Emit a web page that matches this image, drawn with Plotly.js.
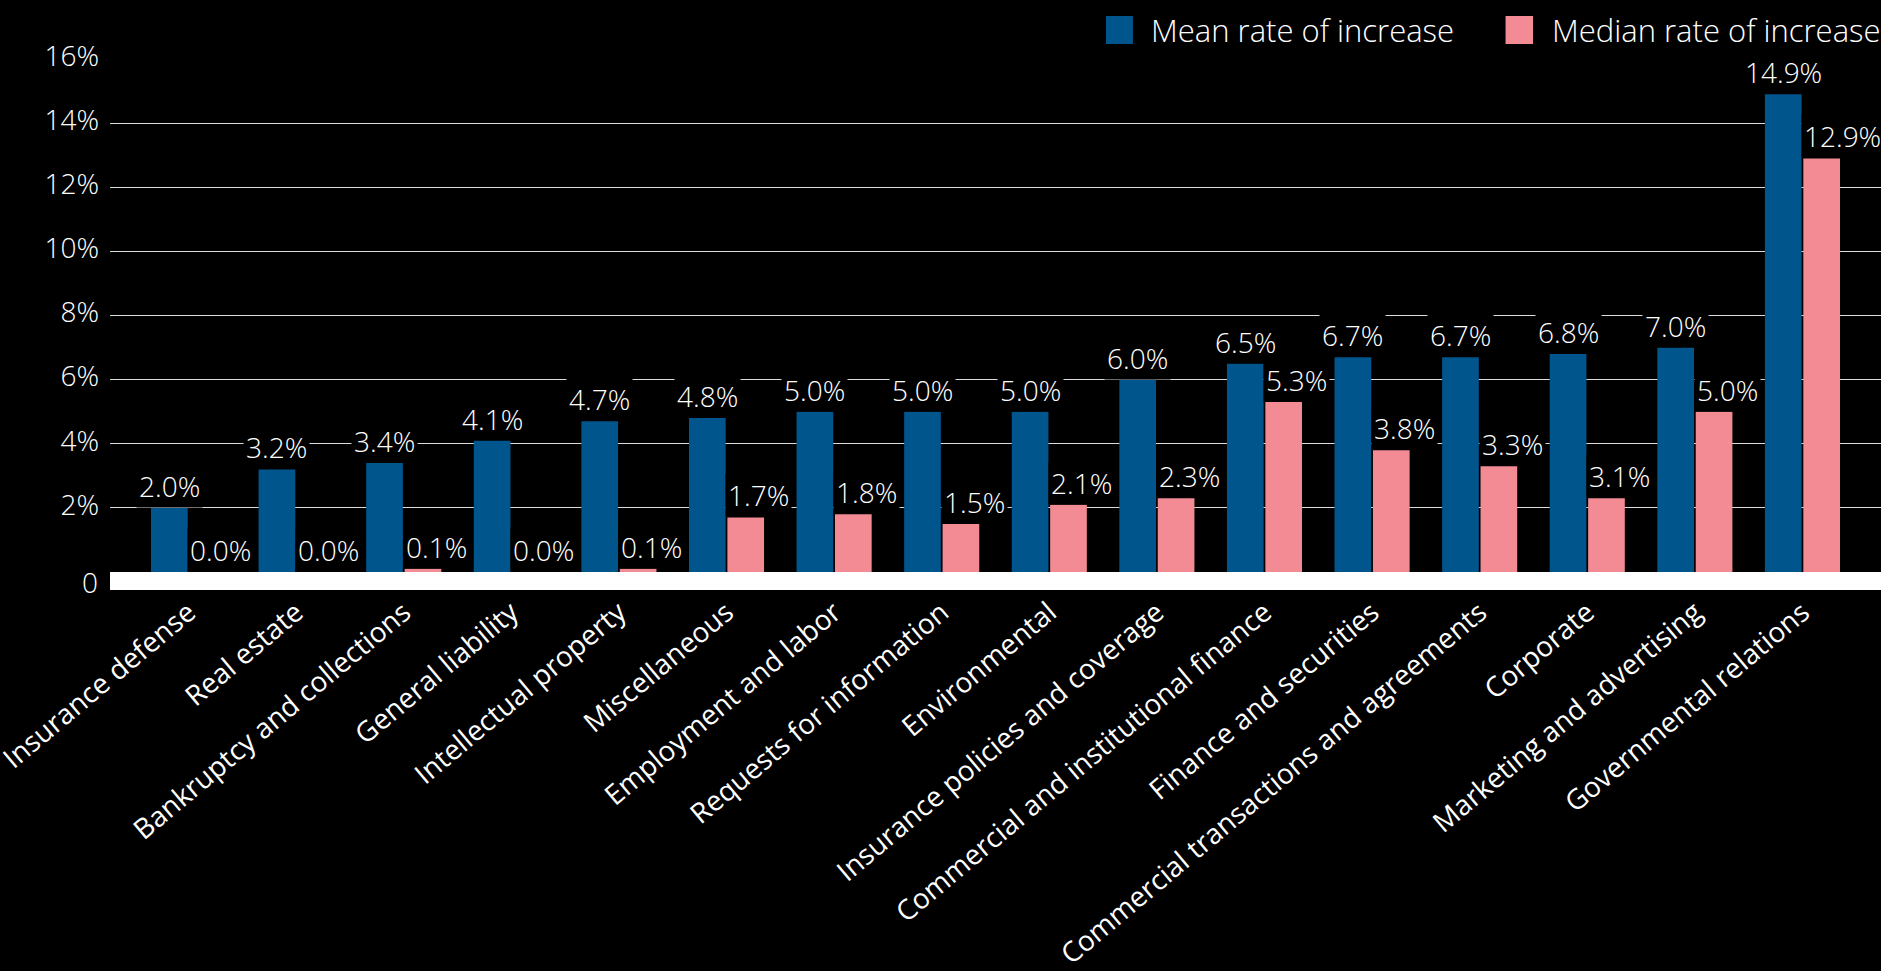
<!DOCTYPE html>
<html>
<head>
<meta charset="utf-8">
<script src="https://cdn.plot.ly/plotly-3.0.1.min.js"></script>
<style>html,body{margin:0;padding:0;background:#000;}#chart{width:1881px;height:971px;}</style>
</head>
<body>
<div id="chart"></div>
<script>
// ---- data ----
const categories = [
  "Insurance defense", "Real estate", "Bankruptcy and collections", "General liability",
  "Intellectual property", "Miscellaneous", "Employment and labor", "Requests for information",
  "Environmental", "Insurance policies and coverage", "Commercial and institutional finance",
  "Finance and securities", "Commercial transactions and agreements", "Corporate",
  "Marketing and advertising", "Governmental relations"
];
const seriesNames = ["Mean rate of increase", "Median rate of increase"];
const meanValues   = [2.0, 3.2, 3.4, 4.1, 4.7, 4.8, 5.0, 5.0, 5.0, 6.0, 6.5, 6.7, 6.7, 6.8, 7.0, 14.9];
const medianValues = [0.0, 0.0, 0.1, 0.0, 0.1, 1.7, 1.8, 1.5, 2.1, 2.3, 5.3, 3.8, 3.3, 2.3, 5.0, 12.9];
// printed labels (the Corporate median bar is drawn at 2.3 but labelled 3.1% in the source)
const meanLabels   = [2.0, 3.2, 3.4, 4.1, 4.7, 4.8, 5.0, 5.0, 5.0, 6.0, 6.5, 6.7, 6.7, 6.8, 7.0, 14.9];
const medianLabels = [0.0, 0.0, 0.1, 0.0, 0.1, 1.7, 1.8, 1.5, 2.1, 2.3, 5.3, 3.8, 3.3, 3.1, 5.0, 12.9];
const yTickValues = [2, 4, 6, 8, 10, 12, 14, 16];

// ---- style ----
const BLUE = "#00558C";
const PINK = "#F28B94";
const FONT = "Open Sans, Noto Sans, sans-serif";
const BARGAP = 0.286, GROUPGAP = 0.045;
const slot = (1 - BARGAP) / 2;

const traces = [
  {type: "bar", name: seriesNames[0], x: categories, y: meanValues,
   marker: {color: BLUE}, hoverinfo: "x+y"},
  {type: "bar", name: seriesNames[1], x: categories, y: medianValues,
   marker: {color: PINK}, hoverinfo: "x+y"}
];

const labelFont = {family: FONT, size: 28, color: "#ffffff", weight: 300};
const annotations = [];
categories.forEach((c, i) => {
  annotations.push({
    x: i - slot / 2, y: meanValues[i], xref: "x", yref: "y",
    text: meanLabels[i].toFixed(1) + "%", showarrow: false,
    xanchor: "center", yanchor: "bottom", bgcolor: "#000000", borderpad: 2,
    font: labelFont
  });
  annotations.push({
    x: i - 0.01, y: medianValues[i], xref: "x", yref: "y",
    text: medianLabels[i].toFixed(1) + "%", showarrow: false,
    xanchor: "left", yanchor: "bottom", bgcolor: "#000000", borderpad: 2,
    font: labelFont
  });
});
// zero label centred on the white baseline band
annotations.push({
  x: 0, xref: "paper", y: 0, yref: "y", yshift: -10, xshift: -10,
  text: "0", showarrow: false, xanchor: "right", yanchor: "middle",
  font: {family: FONT, size: 28, color: "#ffffff", weight: 300}
});

// custom legend (large square swatches)
const legendItems = [
  {name: seriesNames[0], color: BLUE, x0: 0.5624, x1: 0.5776, tx: 0.5870},
  {name: seriesNames[1], color: PINK, x0: 0.7880, x1: 0.8035, tx: 0.8134}
];
const shapes = [];
legendItems.forEach(it => {
  shapes.push({type: "rect", xref: "paper", yref: "paper",
    x0: it.x0, x1: it.x1, y0: 1.0292, y1: 1.0838,
    fillcolor: it.color, line: {width: 0}});
  annotations.push({x: it.tx, y: 1.0565, xref: "paper", yref: "paper",
    text: it.name, showarrow: false, xanchor: "left", yanchor: "middle", borderpad: 0,
    font: {family: FONT, size: 31, color: "#ffffff", weight: 300}});
});

const layout = {
  width: 1881, height: 971,
  paper_bgcolor: "#000000", plot_bgcolor: "#000000",
  margin: {l: 110, r: 0, t: 59, b: 399, pad: 0},
  showlegend: false,
  barmode: "group", bargap: BARGAP, bargroupgap: GROUPGAP,
  font: {family: FONT, color: "#ffffff"},
  xaxis: {
    type: "category", range: [-0.73, 15.73],
    tickangle: -40, tickfont: {family: FONT, size: 28, color: "#ffffff"},
    ticklabelstandoff: -5,
    showline: true, linecolor: "#ffffff", linewidth: 18,
    showgrid: false, zeroline: false, ticks: "", fixedrange: true
  },
  yaxis: {
    range: [0, 16], tickvals: yTickValues,
    ticktext: yTickValues.map(v => v + "%"),
    tickfont: {family: FONT, size: 28, color: "#ffffff", weight: 300},
    ticklabelstandoff: 10, ticklabelshift: -3,
    showgrid: true, gridcolor: "#dcdcdc", gridwidth: 1,
    zeroline: false, showline: false, ticks: "", fixedrange: true
  },
  shapes: shapes,
  annotations: annotations
};

Plotly.newPlot("chart", traces, layout, {displayModeBar: false, staticPlot: true});
</script>
</body>
</html>
